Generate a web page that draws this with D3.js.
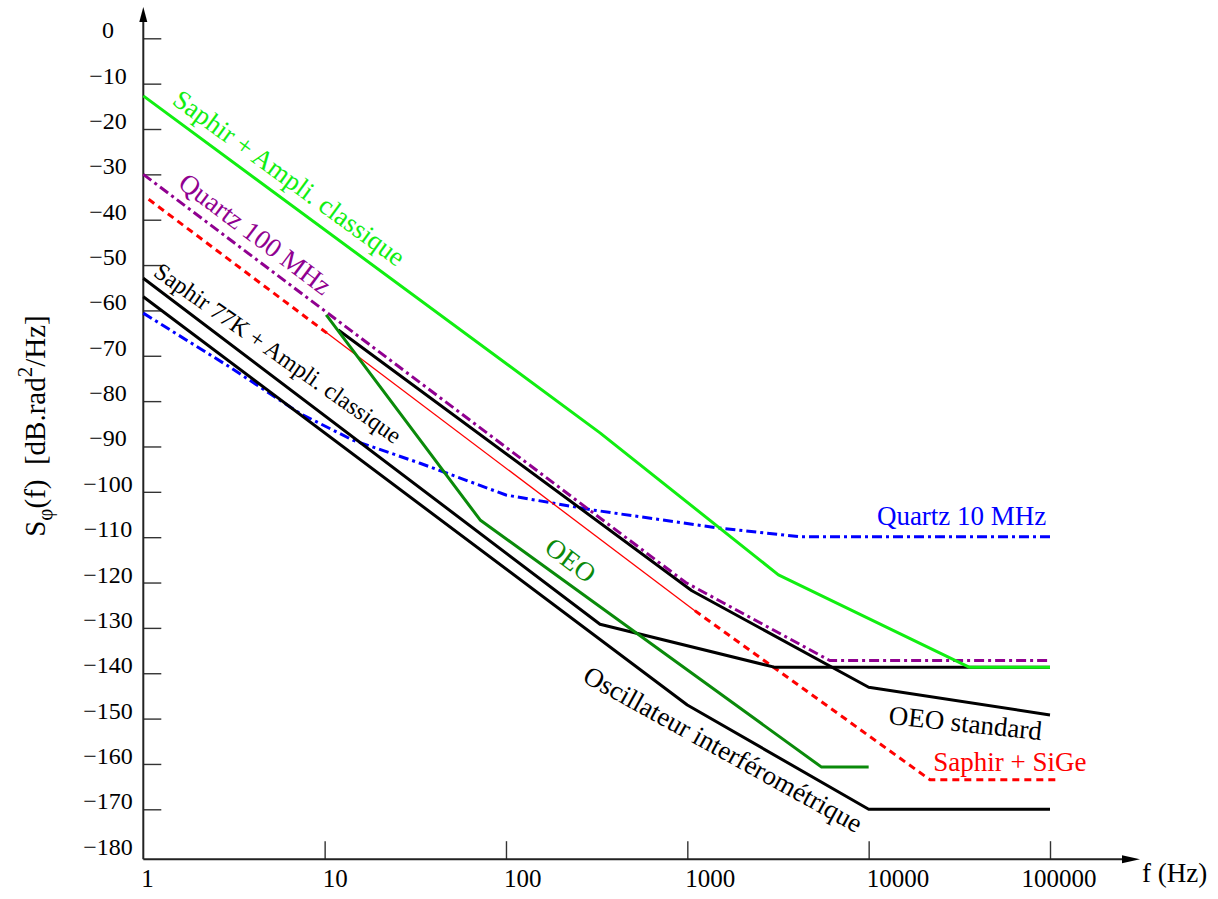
<!DOCTYPE html>
<html lang="fr">
<head>
<meta charset="UTF-8">
<title>Bruit de phase</title>
<script src="https://d3js.org/d3.v7.min.js"></script>
<style>
  body { margin: 0; background: white; }
  text { font-family: "Liberation Serif", "DejaVu Serif", serif; }
</style>
</head>
<body>
<script>
// valeurs : [fréquence (Hz), S_phi (dB.rad²/Hz)]
const xTicks = [1, 10, 100, 1000, 10000, 100000];
const xTickLabels = ["1", "10", "100", "1000", "10000", "100000"];
const yTicks = d3.range(0, -181, -10);

const saphirAmpli = [[1, -12.7], [330, -87], [3180, -118.3], [36000, -138.7], [100000, -138.7]];
const quartz100 = [[1, -30], [980, -120], [6100, -137.2], [100000, -137.2]];
const saphir77K = [[1, -52.9], [330, -129.2], [3050, -138.7], [100000, -138.7]];
const oscInterf = [[1, -57], [1000, -147], [10000, -170], [100000, -170]];
const oeoStandard = [[11.9, -64.3], [1060, -121.8], [10000, -143.1], [100000, -149.2]];
const oeo = [[10.2, -61], [72, -106.2], [5500, -160.7], [10000, -160.7]];
const sigeLow = [[1.07, -35.5], [10.3, -65]];
const sigeMid = [[10.3, -65], [1100, -126.2]];
const sigeHigh = [[1100, -126.2], [21800, -163.5], [110000, -163.5]];
const quartz10 = [[1, -60.6], [3, -72.5], [7.3, -82.7], [14.3, -88.6], [33.6, -93.7], [100, -100.7],
                  [300, -104], [1500, -108], [4200, -109.9], [100000, -109.9]];

// étiquettes posées dans le repère des données
const labels = [
  { text: "Saphir + Ampli. classique", f: 1.42, db: -14.3, angle: 36, key: "green" },
  { text: "Quartz 100 MHz", f: 1.53, db: -32.6, angle: 37, key: "purple" },
  { text: "Saphir 77K + Ampli. classique", f: 1.12, db: -52.2, angle: 35, key: "black" },
  { text: "OEO", f: 160, db: -113, angle: 37, key: "dkgreen" },
  { text: "Oscillateur interférométrique", f: 260, db: -141.7, angle: 29, key: "black" },
  { text: "OEO standard", f: 12800, db: -151.2, angle: 6, key: "black" },
  { text: "Saphir + SiGe", f: 22700, db: -161.6, angle: 0, key: "red" },
  { text: "Quartz 10 MHz", f: 11100, db: -107.3, angle: 0, key: "blue" }
];

const colors = {
  green: "#11ee11", dkgreen: "#0a8a0a", purple: "#900090",
  red: "#ff0000", blue: "#0000ff", black: "#000000"
};

const width = 1218, height = 899;
const svg = d3.select("body").append("svg")
  .attr("width", width).attr("height", height)
  .style("background", "white");

const x = d3.scaleLog().domain([1, 100000]).range([143.3, 1050]);
const y = d3.scaleLinear().domain([0, -170]).range([38.3, 809.3]);
const x0 = x(1), yAxis = y(-181);

// axes
svg.append("g")
  .attr("transform", "translate(" + x0 + ",0)")
  .call(d3.axisRight(y).tickValues(yTicks.filter(v => v > -180)).tickSize(18).tickFormat(""))
  .call(g => g.select(".domain").remove())
  .selectAll("line").attr("stroke", "#333").attr("stroke-width", 1.4);

svg.append("g")
  .attr("transform", "translate(0," + yAxis + ")")
  .call(d3.axisTop(x).tickValues(xTicks.slice(1)).tickSize(18).tickFormat(""))
  .call(g => g.select(".domain").remove())
  .selectAll("line").attr("stroke", "#333").attr("stroke-width", 1.4);

svg.append("line").attr("x1", x0).attr("x2", x0).attr("y1", yAxis).attr("y2", 18)
  .attr("stroke", "#222").attr("stroke-width", 2);
svg.append("path").attr("d", `M${x0},7 L${x0 - 4},22 L${x0 + 4},22 Z`).attr("fill", "#000");
svg.append("line").attr("x1", x0).attr("x2", 1128).attr("y1", yAxis).attr("y2", yAxis)
  .attr("stroke", "#222").attr("stroke-width", 2);
svg.append("path").attr("d", `M1140,${yAxis} L1122,${yAxis - 4} L1122,${yAxis + 4} Z`).attr("fill", "#000");

svg.append("g").selectAll("text").data(yTicks).join("text")
  .attr("x", 108).attr("y", d => y(d))
  .attr("text-anchor", "middle").attr("font-size", 24)
  .text(d => d === 0 ? "0" : "\u2212" + Math.abs(d));

svg.append("g").selectAll("text").data(xTicks).join("text")
  .attr("x", (d, i) => i === xTicks.length - 1 ? x(d) + 9 : x(d) - 2)
  .attr("y", 887)
  .attr("text-anchor", (d, i) => i === xTicks.length - 1 ? "middle" : "start")
  .attr("font-size", 25)
  .text((d, i) => xTickLabels[i]);

svg.append("text").attr("x", 1142).attr("y", 882).attr("font-size", 27).text("f (Hz)");

// titre de l'axe y
const yt = svg.append("text").attr("transform", "translate(45,426) rotate(-90)")
  .attr("text-anchor", "middle").attr("font-size", 29);
yt.append("tspan").text("S");
yt.append("tspan").attr("dy", 7).attr("font-size", 21).text("\u03c6");
yt.append("tspan").attr("dy", -7).text("(f)\u00a0\u00a0[dB.rad");
yt.append("tspan").attr("dy", -13).attr("font-size", 21).text("2");
yt.append("tspan").attr("dy", 13).text("/Hz]");

// courbes
const line = d3.line().x(d => x(d[0])).y(d => y(d[1]));
const curves = [
  { d: quartz10, c: "blue", w: 3, dash: "10,4,3,4" },
  { d: sigeLow, c: "red", w: 3, dash: "7,5" },
  { d: sigeMid, c: "red", w: 1.3, dash: null },
  { d: sigeHigh, c: "red", w: 3, dash: "7,5" },
  { d: saphir77K, c: "black", w: 3, dash: null },
  { d: oscInterf, c: "black", w: 3, dash: null },
  { d: oeoStandard, c: "black", w: 3, dash: null },
  { d: quartz100, c: "purple", w: 3, dash: "10,4,3,4" },
  { d: oeo, c: "dkgreen", w: 3, dash: null },
  { d: saphirAmpli, c: "green", w: 3, dash: null }
];
svg.append("g").selectAll("path").data(curves).join("path")
  .attr("d", d => line(d.d))
  .attr("fill", "none")
  .attr("stroke", d => colors[d.c])
  .attr("stroke-width", d => d.w)
  .attr("stroke-dasharray", d => d.dash)
  .attr("stroke-linejoin", "round");

svg.append("g").selectAll("text").data(labels).join("text")
  .attr("transform", d => "translate(" + x(d.f) + "," + y(d.db) + ") rotate(" + d.angle + ")")
  .attr("font-size", d => d.key === "black" && d.angle === 35 ? 24 : 27)
  .attr("fill", d => colors[d.key])
  .text(d => d.text);
</script>
</body>
</html>
